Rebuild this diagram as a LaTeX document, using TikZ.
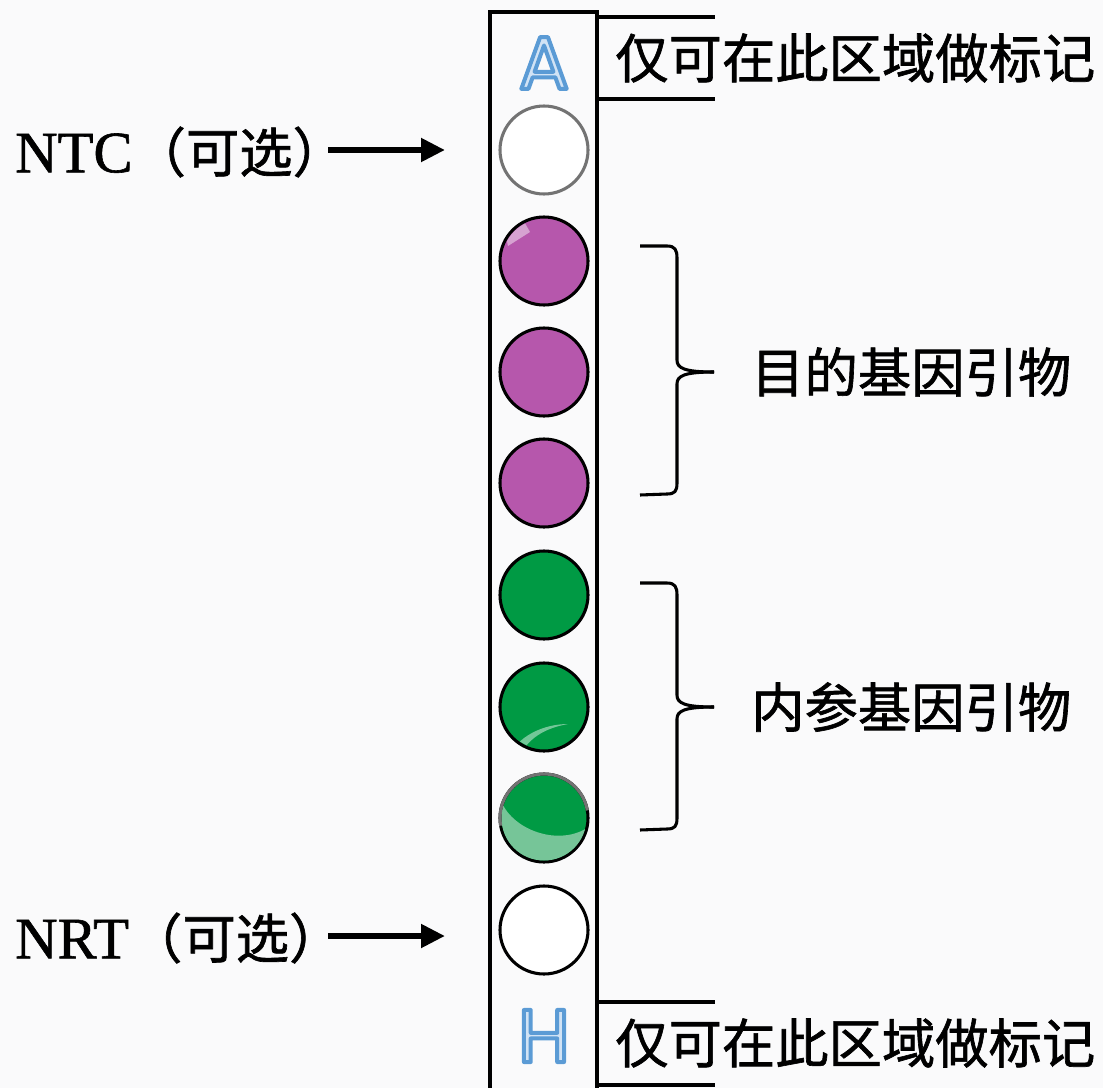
\documentclass[tikz,border=0pt]{standalone}
\usepackage{fontspec}
\setmainfont{Liberation Serif}[FakeBold=1]
\newfontfamily\cjk{Noto Sans CJK SC}[FakeBold=1.2]
\newfontfamily\letterfont{Poppins}
\usetikzlibrary{arrows.meta}
\definecolor{bgc}{HTML}{FAFAFB}
\definecolor{purp}{HTML}{B657AC}
\definecolor{grn}{HTML}{009A44}
\definecolor{lgrn}{HTML}{76C598}
\definecolor{lbl}{HTML}{5B9BD5}
\tikzset{
  well/.style={circle,draw=black,line width=2.3pt,minimum size=66pt,inner sep=0pt},
  strip/.style={draw=black,line width=2.5pt},
  brace/.style={draw=black,line width=2.3pt},
  labline/.style={draw=black,line width=2.3pt},
  bigarrow/.style={line width=4.4pt,-{Triangle[length=18pt,width=17pt]}},
  cntext/.style={inner sep=0pt,font=\cjk\fontsize{40}{44}\selectfont},
  sidetext/.style={inner sep=0pt,anchor=west,font=\fontsize{44}{48}\selectfont},
  letter/.style={inner sep=0pt,font=\letterfont\fontsize{56}{60}\selectfont}
}
\newcommand{\outlineletter}[1]{\special{pdf:code 0.82 0.89 0.96 rg 0.357 0.608 0.835 RG 3 w 1 j 2 Tr}#1\special{pdf:code 0 Tr}}
\begin{document}
\begin{tikzpicture}[x=0.75pt,y=-0.75pt]
\useasboundingbox (0,0) rectangle (1103,1088);
\fill[bgc] (0,0) rectangle (1103,1088);
% strip
\draw[strip] (490,1100) -- (490,12) -- (597,12) -- (597,1100);
% letters
\node[letter] (la) at (544,63) {\outlineletter{A}};
\node[letter] (lh) at (544,1036) {\outlineletter{H}};
% wells
\node[well,draw=black!55,fill=white] (c1) at (544,150) {};
\node[well,fill=purp] (c2) at (544,261) {};
\node[well,fill=purp] (c3) at (544,372) {};
\node[well,fill=purp] (c4) at (544,483) {};
\node[well,fill=grn] (c5) at (544,595) {};
\node[well,fill=grn] (c6) at (544,707) {};
\node[well,fill=grn] (c7) at (544,818) {};
\node[well,fill=white] (c8) at (544,930) {};
% highlights
\begin{scope}
\clip (544,261) circle (42);
\fill[white,opacity=0.45] (505,232) -- (522,218) -- (530,232) -- (508,246) -- cycle;
\end{scope}
\begin{scope}
\clip (544,707) circle (42);
\fill[white,opacity=0.45] (506,762) .. controls (516,735) and (545,724) .. (568,724) .. controls (540,729) and (524,742) .. (516,764) -- cycle;
\end{scope}
\begin{scope}
\clip (544,818) circle (42.5);
\fill[lgrn] (500,798) .. controls (510,830) and (560,848) .. (590,826) -- (600,870) -- (490,870) -- cycle;
\end{scope}
\draw[black!55,line width=2.3pt] (544,818) ++(-10:44) arc (-10:-190:44);
% label boxes
\draw[labline] (597,17) -- (715,17);
\draw[labline] (597,99) -- (715,99);
\node[cntext,anchor=west] (ttop) at (615,58) {仅可在此区域做标记};
\draw[labline] (597,1002) -- (715,1002);
\draw[labline] (597,1085) -- (715,1085);
\node[cntext,anchor=west] (tbot) at (615,1043) {仅可在此区域做标记};
% braces
\draw[brace] (640,246) -- (667,246) .. controls (675,246) and (677,250) .. (677,258) -- (677,360) .. controls (677,368) and (684,372) .. (714,372);
\draw[brace] (714,372) .. controls (684,372) and (677,376) .. (677,384) -- (677,483) .. controls (677,491) and (675,494) .. (667,494) -- (640,495);
\draw[brace] (640,583) -- (667,583) .. controls (675,583) and (677,587) .. (677,595) -- (677,695) .. controls (677,703) and (684,707) .. (714,707);
\draw[brace] (714,707) .. controls (684,707) and (677,711) .. (677,719) -- (677,818) .. controls (677,826) and (675,829) .. (667,829) -- (640,830);
\node[cntext,anchor=west] (tgene) at (751,372) {目的基因引物};
\node[cntext,anchor=west] (tref) at (751,707) {内参基因引物};
% side labels
\node[sidetext] (ntc) at (15,152) {NTC{\cjk\fontsize{40}{44}\selectfont （可选）}};
\node[sidetext] (nrt) at (15,938) {NRT{\cjk\fontsize{40}{44}\selectfont （可选）}};
\coordinate (ntcS) at (328,150);
\coordinate (ntcE) at (445,150);
\coordinate (nrtS) at (328,936);
\coordinate (nrtE) at (445,936);
\draw[bigarrow] (ntcS) -- (ntcE);
\draw[bigarrow] (nrtS) -- (nrtE);
\end{tikzpicture}
\end{document}
